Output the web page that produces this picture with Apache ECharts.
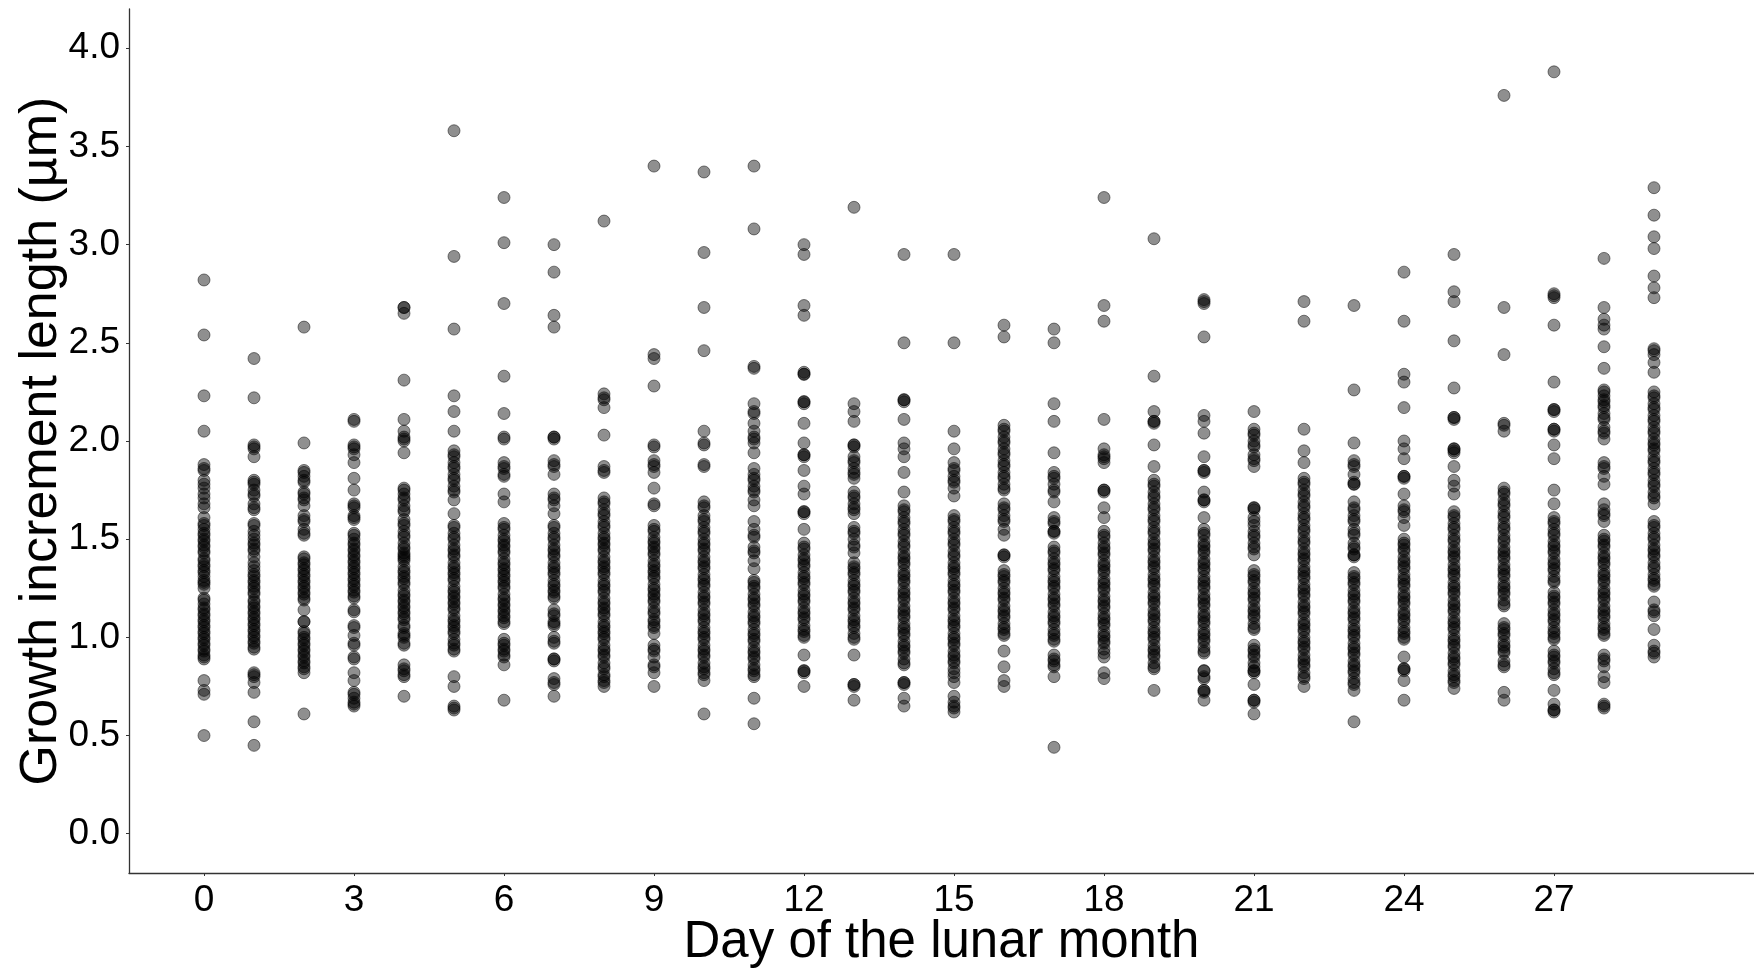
<!DOCTYPE html>
<html>
<head>
<meta charset="utf-8">
<script src="https://cdn.jsdelivr.net/npm/echarts@6/dist/echarts.min.js"></script>
<style>
html,body{margin:0;padding:0;background:#fff;}
#chart{width:1754px;height:972px;}
</style>
</head>
<body>
<div id="chart"></div>
<script>
// Growth increment length (µm) per day of the lunar month
const xTicks = [0, 3, 6, 9, 12, 15, 18, 21, 24, 27];
const yTicks = [0, 0.5, 1.0, 1.5, 2.0, 2.5, 3.0, 3.5, 4.0];
const xTitle = 'Day of the lunar month';
const yTitle = 'Growth increment length (µm)';

const day0 = [2.82,2.54,2.23,2.05,1.88,1.85,1.80,1.76,1.71,1.68,1.66,1.61,1.58,1.55,1.52,1.49,1.46,1.43,1.40,1.37,1.34,1.31,1.28,1.25,1.20,1.17,1.14,1.11,1.08,1.05,1.02,0.99,0.96,0.93,0.90,0.78,0.73,0.71,0.50,
  1.86,1.78,1.73,1.57,1.53,1.50,1.47,1.44,1.39,1.36,1.33,1.29,1.27,1.19,1.15,1.12,1.09,1.06,1.03,1.00,0.97,0.94,0.91,0.89];
const day1 = [2.42,2.22,1.98,1.97,1.92,1.80,1.78,1.75,1.72,1.68,1.65,1.57,1.54,1.50,1.47,1.44,1.41,1.38,1.34,1.31,1.28,1.25,1.22,1.18,1.15,1.12,1.09,1.06,1.03,1.00,0.97,0.94,0.82,0.81,0.77,0.72,0.57,0.45,
  1.96,1.79,1.73,1.66,1.58,1.52,1.48,1.45,1.36,1.32,1.29,1.26,1.23,1.19,1.16,1.13,1.10,1.07,1.04,1.01,0.98,0.95,0.80];
const day2 = [2.58,1.99,1.85,1.82,1.79,1.73,1.70,1.67,1.62,1.59,1.55,1.52,1.40,1.37,1.34,1.31,1.28,1.25,1.22,1.19,1.14,1.08,1.03,1.00,0.97,0.94,0.91,0.88,0.85,0.82,0.61,
  1.84,1.80,1.74,1.71,1.60,1.53,1.41,1.38,1.35,1.32,1.29,1.26,1.23,1.20,1.08,1.02,0.99,0.96,0.93,0.90,0.87,0.84];
const day3 = [2.11,2.10,1.98,1.96,1.93,1.89,1.81,1.75,1.68,1.66,1.62,1.60,1.52,1.50,1.47,1.44,1.41,1.38,1.35,1.32,1.29,1.26,1.23,1.20,1.13,1.05,1.01,0.96,0.89,0.82,0.78,0.71,0.69,0.66,0.65,
  1.97,1.67,1.61,1.53,1.48,1.45,1.42,1.39,1.36,1.33,1.30,1.27,1.24,1.21,1.14,1.06,0.97,0.90,0.72,0.67];
const day4 = [2.68,2.65,2.31,2.11,2.05,2.01,2.00,1.94,1.76,1.73,1.70,1.67,1.64,1.60,1.57,1.54,1.51,1.48,1.45,1.42,1.41,1.39,1.36,1.33,1.30,1.27,1.24,1.21,1.18,1.15,1.12,1.09,1.05,1.01,1.00,0.96,0.86,0.83,0.80,0.70,
  2.68,2.02,1.75,1.71,1.65,1.58,1.52,1.46,1.43,1.40,1.34,1.31,1.28,1.22,1.19,1.16,1.13,1.10,1.06,1.02,0.97,0.84,0.81];
const day5 = [3.58,2.94,2.57,2.23,2.15,2.05,1.95,1.92,1.89,1.86,1.83,1.80,1.77,1.74,1.70,1.63,1.56,1.53,1.50,1.47,1.44,1.41,1.38,1.35,1.32,1.29,1.26,1.23,1.20,1.17,1.14,1.11,1.08,1.05,1.02,0.99,0.96,0.93,0.80,0.75,0.65,0.63,
  1.93,1.87,1.81,1.75,1.57,1.51,1.45,1.42,1.36,1.33,1.30,1.24,1.21,1.18,1.15,1.09,1.06,1.03,0.97,0.94,0.64];
const day6 = [3.24,3.01,2.70,2.33,2.14,2.02,2.01,1.89,1.86,1.82,1.73,1.69,1.58,1.55,1.52,1.49,1.46,1.43,1.40,1.37,1.34,1.31,1.28,1.25,1.22,1.19,1.16,1.13,1.10,1.07,0.99,0.96,0.93,0.90,0.86,0.68,
  1.87,1.83,1.56,1.50,1.47,1.44,1.38,1.35,1.32,1.29,1.26,1.20,1.17,1.14,1.11,1.08,0.97,0.94,0.91];
const day7 = [3.00,2.86,2.64,2.58,2.02,2.02,2.01,1.90,1.87,1.83,1.73,1.70,1.67,1.63,1.56,1.53,1.50,1.47,1.44,1.41,1.38,1.35,1.32,1.29,1.26,1.23,1.20,1.14,1.11,1.07,1.06,1.00,0.97,0.89,0.89,0.88,0.79,0.76,0.70,
  1.88,1.71,1.57,1.51,1.45,1.42,1.36,1.33,1.27,1.24,1.21,1.12,1.08,0.98,0.77];
const day8 = [3.12,2.24,2.21,2.17,2.03,1.87,1.84,1.71,1.68,1.65,1.62,1.59,1.56,1.53,1.50,1.47,1.44,1.41,1.38,1.35,1.32,1.29,1.26,1.23,1.20,1.17,1.14,1.11,1.08,1.05,1.02,0.99,0.96,0.93,0.90,0.87,0.84,0.80,0.77,0.75,
  2.22,1.85,1.69,1.63,1.57,1.51,1.48,1.45,1.39,1.36,1.33,1.27,1.24,1.18,1.15,1.12,1.06,1.03,1.00,0.94,0.91,0.85,0.81,0.78];
const day9 = [3.40,2.44,2.42,2.28,1.98,1.97,1.90,1.87,1.84,1.76,1.68,1.67,1.57,1.54,1.51,1.48,1.45,1.42,1.39,1.36,1.33,1.30,1.27,1.24,1.21,1.18,1.15,1.12,1.08,1.05,1.02,0.96,0.93,0.90,0.85,0.82,0.75,
  1.88,1.55,1.49,1.46,1.43,1.37,1.34,1.31,1.25,1.22,1.19,1.13,1.09,1.06,0.94,0.86];
const day10 = [3.37,2.96,2.68,2.46,2.05,1.99,1.98,1.88,1.87,1.69,1.66,1.62,1.59,1.56,1.53,1.50,1.47,1.44,1.41,1.38,1.35,1.32,1.29,1.26,1.23,1.20,1.17,1.14,1.11,1.08,1.05,1.02,0.99,0.96,0.93,0.90,0.87,0.84,0.81,0.78,0.61,
  1.67,1.60,1.54,1.48,1.45,1.39,1.36,1.30,1.27,1.21,1.18,1.12,1.09,1.03,1.00,0.94,0.91,0.85,0.82];
const day11 = [3.40,3.08,2.38,2.37,2.19,2.14,2.09,2.05,2.01,1.99,1.94,1.86,1.83,1.80,1.77,1.74,1.70,1.67,1.59,1.55,1.51,1.46,1.43,1.39,1.35,1.28,1.25,1.22,1.19,1.16,1.13,1.10,1.07,1.04,1.01,0.98,0.95,0.92,0.89,0.86,0.83,0.80,0.69,0.56,
  2.15,2.02,1.81,1.75,1.52,1.44,1.29,1.26,1.20,1.17,1.11,1.08,1.02,0.99,0.93,0.90,0.84,0.81];
const day12 = [3.00,2.95,2.69,2.64,2.35,2.34,2.20,2.19,2.09,1.99,1.93,1.92,1.85,1.77,1.73,1.64,1.63,1.55,1.48,1.45,1.42,1.39,1.36,1.33,1.30,1.27,1.24,1.21,1.18,1.15,1.12,1.09,1.06,1.03,1.00,0.91,0.83,0.82,0.75,
  2.34,2.20,1.93,1.64,1.46,1.40,1.37,1.31,1.28,1.22,1.19,1.13,1.10,1.04,1.01,0.83];
const day13 = [3.19,2.19,2.15,2.10,1.98,1.97,1.92,1.89,1.86,1.83,1.81,1.74,1.71,1.68,1.65,1.63,1.56,1.53,1.50,1.46,1.43,1.38,1.35,1.32,1.29,1.26,1.23,1.20,1.17,1.14,1.11,1.08,1.05,1.02,0.99,0.91,0.76,0.75,0.68,
  1.98,1.90,1.84,1.72,1.66,1.54,1.47,1.36,1.33,1.27,1.24,1.18,1.15,1.09,1.06,1.00,0.76];
const day14 = [2.95,2.50,2.21,2.20,2.11,1.99,1.96,1.92,1.84,1.74,1.67,1.64,1.61,1.58,1.55,1.52,1.49,1.46,1.43,1.40,1.37,1.34,1.31,1.28,1.25,1.22,1.19,1.16,1.13,1.10,1.07,1.04,1.01,0.98,0.95,0.92,0.89,0.86,0.77,0.76,0.69,0.65,
  2.21,1.65,1.59,1.53,1.47,1.41,1.38,1.32,1.29,1.23,1.20,1.14,1.11,1.05,1.02,0.96,0.93,0.87,0.77];
const day15 = [2.95,2.50,2.05,1.96,1.89,1.85,1.82,1.79,1.76,1.72,1.62,1.59,1.56,1.53,1.50,1.47,1.44,1.41,1.38,1.35,1.32,1.29,1.26,1.23,1.20,1.17,1.14,1.11,1.08,1.05,1.02,0.99,0.96,0.93,0.90,0.87,0.84,0.80,0.77,0.70,0.67,0.64,0.62,
  1.86,1.80,1.60,1.54,1.48,1.42,1.36,1.33,1.27,1.24,1.18,1.15,1.09,1.06,1.00,0.97,0.91,0.88,0.82,0.65];
const day16 = [2.59,2.53,2.08,2.05,2.02,1.99,1.96,1.93,1.90,1.87,1.84,1.81,1.78,1.75,1.68,1.65,1.62,1.59,1.55,1.52,1.42,1.41,1.34,1.31,1.28,1.25,1.22,1.19,1.16,1.13,1.10,1.07,1.04,1.01,0.93,0.85,0.78,0.75,
  2.06,2.00,1.94,1.88,1.82,1.76,1.66,1.60,1.42,1.32,1.29,1.23,1.20,1.14,1.11,1.05,1.02];
const day17 = [2.57,2.50,2.19,2.10,1.94,1.84,1.81,1.78,1.74,1.69,1.61,1.58,1.54,1.53,1.46,1.43,1.40,1.37,1.34,1.31,1.28,1.25,1.22,1.19,1.16,1.13,1.10,1.07,1.04,1.01,0.98,0.91,0.88,0.85,0.80,0.44,
  1.82,1.75,1.59,1.54,1.44,1.38,1.35,1.29,1.26,1.20,1.17,1.11,1.08,1.02,0.99,0.89,0.86];
const day18 = [3.24,2.69,2.61,2.11,1.96,1.93,1.91,1.89,1.75,1.74,1.66,1.61,1.54,1.51,1.48,1.45,1.42,1.39,1.36,1.33,1.30,1.27,1.24,1.21,1.18,1.15,1.12,1.09,1.06,1.03,1.00,0.97,0.94,0.90,0.82,0.79,
  1.92,1.75,1.52,1.46,1.43,1.37,1.34,1.28,1.25,1.19,1.16,1.10,1.07,1.01,0.98,0.92];
const day19 = [3.03,2.33,2.15,2.10,2.09,1.98,1.87,1.80,1.77,1.74,1.71,1.68,1.65,1.62,1.59,1.56,1.53,1.50,1.47,1.44,1.41,1.38,1.35,1.32,1.29,1.26,1.23,1.20,1.17,1.14,1.11,1.08,1.05,1.02,0.99,0.96,0.93,0.90,0.87,0.84,0.73,
  2.10,1.78,1.72,1.66,1.60,1.54,1.48,1.45,1.39,1.36,1.30,1.27,1.21,1.18,1.12,1.09,1.03,1.00,0.94,0.91,0.85];
const day20 = [2.72,2.70,2.53,2.13,2.10,2.04,1.92,1.85,1.84,1.74,1.70,1.69,1.61,1.55,1.52,1.49,1.46,1.43,1.40,1.37,1.34,1.31,1.28,1.25,1.22,1.19,1.16,1.13,1.10,1.07,1.04,1.01,0.98,0.95,0.92,0.83,0.80,0.79,0.73,0.72,0.68,
  2.71,1.85,1.70,1.53,1.47,1.44,1.38,1.35,1.29,1.26,1.20,1.17,1.11,1.08,1.02,0.99,0.93,0.83,0.73];
const day21 = [2.15,2.06,2.03,2.00,1.97,1.93,1.90,1.87,1.66,1.65,1.61,1.57,1.54,1.51,1.48,1.45,1.42,1.34,1.31,1.28,1.25,1.22,1.19,1.16,1.13,1.10,1.07,1.04,0.96,0.93,0.90,0.87,0.83,0.82,0.76,0.68,0.67,0.61,
  2.04,1.98,1.91,1.66,1.59,1.52,1.46,1.32,1.29,1.23,1.20,1.14,1.11,1.05,0.94,0.91,0.85,0.83,0.68];
const day22 = [2.71,2.61,2.06,1.95,1.89,1.81,1.78,1.75,1.72,1.69,1.66,1.63,1.60,1.57,1.54,1.51,1.48,1.45,1.42,1.39,1.36,1.33,1.30,1.27,1.24,1.21,1.18,1.15,1.12,1.09,1.06,1.03,1.00,0.97,0.94,0.91,0.88,0.85,0.82,0.79,0.75,
  1.79,1.73,1.67,1.61,1.55,1.49,1.43,1.40,1.34,1.31,1.25,1.22,1.16,1.13,1.07,1.04,0.98,0.95,0.89,0.86,0.80];
const day23 = [2.69,2.26,1.99,1.90,1.87,1.83,1.79,1.78,1.69,1.65,1.62,1.59,1.55,1.52,1.48,1.45,1.42,1.41,1.33,1.30,1.27,1.24,1.21,1.18,1.15,1.12,1.09,1.06,1.03,1.00,0.97,0.94,0.91,0.88,0.85,0.82,0.79,0.76,0.73,0.57,
  1.88,1.78,1.66,1.60,1.53,1.46,1.42,1.31,1.28,1.22,1.19,1.13,1.10,1.04,1.01,0.95,0.92,0.86,0.83,0.77];
const day24 = [2.86,2.61,2.34,2.30,2.17,2.00,1.96,1.91,1.82,1.81,1.73,1.67,1.64,1.61,1.57,1.50,1.47,1.44,1.41,1.38,1.35,1.32,1.29,1.26,1.23,1.20,1.17,1.14,1.11,1.08,1.05,1.02,0.99,0.90,0.84,0.83,0.78,0.68,
  1.82,1.65,1.48,1.45,1.39,1.36,1.30,1.27,1.21,1.18,1.12,1.09,1.03,1.00,0.84];
const day25 = [2.95,2.76,2.71,2.51,2.27,2.12,2.11,1.96,1.95,1.94,1.87,1.80,1.77,1.73,1.64,1.61,1.58,1.55,1.52,1.49,1.46,1.43,1.40,1.37,1.34,1.31,1.28,1.25,1.22,1.19,1.16,1.13,1.10,1.07,1.04,1.01,0.98,0.95,0.92,0.89,0.86,0.83,0.80,0.77,0.74,
  2.12,1.96,1.62,1.56,1.50,1.44,1.41,1.35,1.32,1.26,1.23,1.17,1.14,1.08,1.05,0.99,0.96,0.90,0.87,0.81,0.78];
const day26 = [3.76,2.68,2.44,2.09,2.05,1.76,1.73,1.70,1.67,1.64,1.61,1.58,1.55,1.52,1.49,1.46,1.43,1.40,1.37,1.34,1.31,1.28,1.25,1.22,1.19,1.16,1.07,1.04,1.01,0.98,0.95,0.92,0.88,0.85,0.72,0.68,
  2.08,1.74,1.68,1.62,1.56,1.50,1.44,1.41,1.35,1.32,1.26,1.23,1.17,1.05,1.02,0.96,0.93,0.86];
const day27 = [3.88,2.75,2.73,2.59,2.30,2.16,2.15,2.06,2.05,1.98,1.91,1.75,1.68,1.61,1.58,1.55,1.52,1.49,1.46,1.43,1.40,1.37,1.34,1.31,1.28,1.23,1.20,1.17,1.14,1.11,1.08,1.05,1.02,0.99,0.93,0.90,0.87,0.84,0.81,0.73,0.66,0.63,0.62,
  2.74,2.16,2.06,1.59,1.53,1.47,1.44,1.38,1.35,1.29,1.21,1.18,1.12,1.09,1.03,1.00,0.91,0.88,0.82,0.63];
const day28 = [2.93,2.68,2.62,2.59,2.57,2.48,2.37,2.26,2.23,2.20,2.17,2.14,2.11,2.07,2.04,2.01,1.89,1.86,1.82,1.78,1.68,1.65,1.62,1.59,1.52,1.49,1.46,1.43,1.40,1.37,1.34,1.31,1.28,1.25,1.22,1.19,1.16,1.13,1.10,1.07,1.04,1.01,0.91,0.88,0.85,0.80,0.77,0.66,0.64,
  2.25,2.21,2.18,2.12,2.05,1.87,1.63,1.50,1.47,1.41,1.38,1.32,1.29,1.23,1.20,1.14,1.11,1.05,1.02,0.89,0.65];
const day29 = [3.29,3.15,3.04,2.98,2.84,2.78,2.73,2.47,2.44,2.40,2.35,2.25,2.22,2.19,2.16,2.13,2.10,2.07,2.04,2.01,1.98,1.95,1.92,1.89,1.86,1.83,1.80,1.77,1.74,1.71,1.68,1.59,1.56,1.53,1.50,1.47,1.44,1.41,1.38,1.35,1.32,1.29,1.26,1.18,1.14,1.11,1.04,0.96,0.93,0.90,
  2.46,2.23,2.17,2.11,2.05,1.99,1.96,1.90,1.84,1.78,1.72,1.57,1.51,1.45,1.42,1.36,1.30,1.27,1.13,0.92];

const columns = [day0,day1,day2,day3,day4,day5,day6,day7,day8,day9,day10,day11,day12,day13,day14,day15,day16,day17,day18,day19,day20,day21,day22,day23,day24,day25,day26,day27,day28,day29];

const points = [];
columns.forEach((vals, day) => vals.forEach(v => points.push([day, v])));

const chart = echarts.init(document.getElementById('chart'), null, {renderer: 'canvas'});
const font = '"Liberation Sans", Arial, Helvetica, sans-serif';
chart.setOption({
  animation: false,
  backgroundColor: '#ffffff',
  grid: {left: 129, right: 0, top: 9, bottom: 99, containLabel: false, outerBoundsMode: 'none'},
  xAxis: {
    type: 'value', min: -1.5, max: 31,
    name: xTitle, nameLocation: 'middle', nameGap: 44, nameMoveOverlap: false,
    nameTextStyle: {fontFamily: font, fontSize: 51, color: '#000'},
    axisLine: {show: true, onZero: false, lineStyle: {color: '#333', width: 1.3}},
    axisTick: {show: true, length: 3, lineStyle: {color: '#333'}, customValues: xTicks},
    axisLabel: {fontFamily: font, fontSize: 37, color: '#000', margin: 9, customValues: xTicks,
      formatter: v => String(v)},
    splitLine: {show: false}
  },
  yAxis: {
    type: 'value', min: -0.2, max: 4.2,
    name: yTitle, nameLocation: 'middle', nameGap: 61, nameMoveOverlap: false,
    nameTextStyle: {fontFamily: font, fontSize: 52, color: '#000'},
    axisLine: {show: true, onZero: false, lineStyle: {color: '#333', width: 1.3}},
    axisTick: {show: true, length: 3, lineStyle: {color: '#333'}, customValues: yTicks},
    axisLabel: {fontFamily: font, fontSize: 37, color: '#000', margin: 9, customValues: yTicks,
      formatter: v => Number(v).toFixed(1)},
    splitLine: {show: false}
  },
  series: [{
    type: 'scatter',
    data: points,
    symbol: 'circle',
    symbolSize: 12,
    large: false,
    itemStyle: {color: 'rgba(0,0,0,0.55)', borderColor: 'rgba(0,0,0,0.6)', borderWidth: 1},
    emphasis: {disabled: true}
  }]
});
</script>
</body>
</html>
